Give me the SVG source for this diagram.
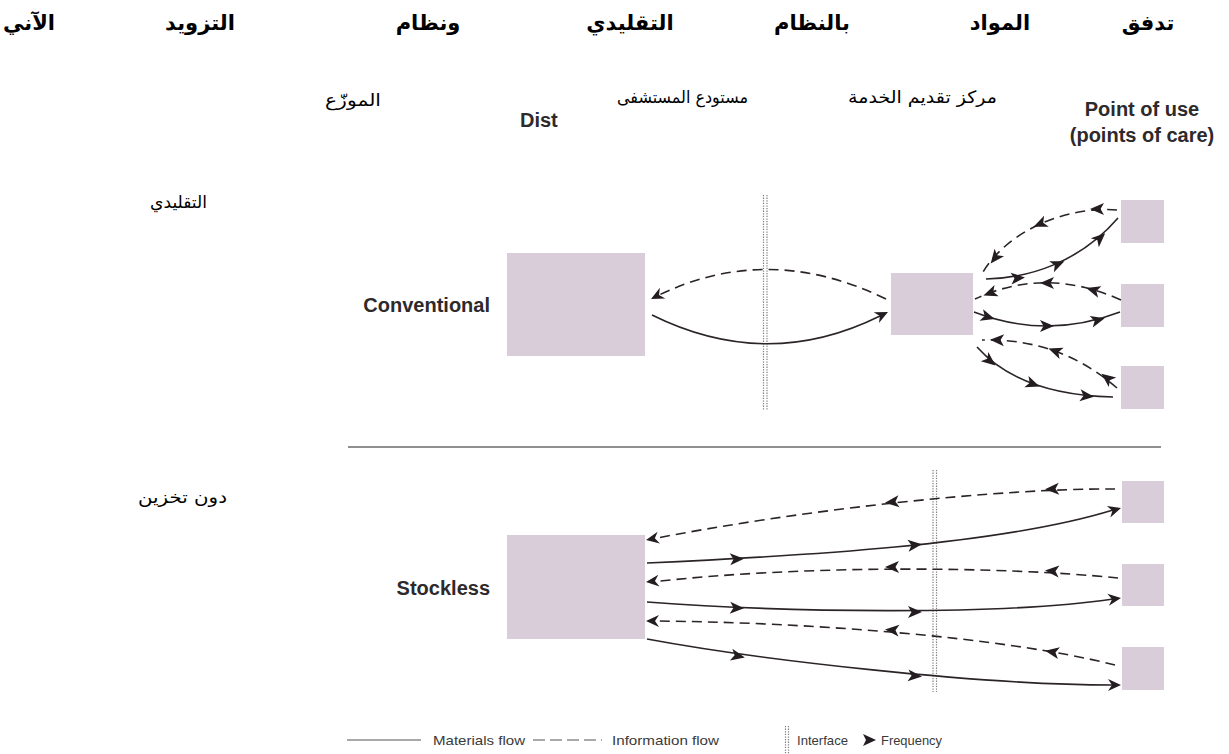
<svg xmlns="http://www.w3.org/2000/svg" xmlns:xlink="http://www.w3.org/1999/xlink" width="1229" height="754" viewBox="0 0 1229 754">
  <style>
    .title { font-family: "DejaVu Sans", sans-serif; font-weight: bold; font-size: 21px; fill: #000; }
    .ar { font-family: "DejaVu Sans", sans-serif; font-size: 17px; fill: #000; }
    .en { font-family: "Liberation Sans", Arial, sans-serif; font-weight: bold; font-size: 20px; fill: #2e2a2c; }
    .leg { font-family: "Liberation Sans", Arial, sans-serif; font-size: 13px; fill: #3a3a3a; }
    .box { fill: #d9cdd9; }
    .mat { fill: none; stroke: #2a2327; stroke-width: 1.6; }
    .inf { fill: none; stroke: #2a2327; stroke-width: 1.6; stroke-dasharray: 10 6; }
    .ifc { fill: none; stroke: #808080; stroke-width: 1.2; stroke-dasharray: 1.3 1.3; }
    .sep { stroke: #6a6a6a; stroke-width: 1.3; }
    .ah { fill: #231c20; }
  </style>
  <defs>
    <!-- frequency mark, centred on the path point -->
    <path id="fq" d="M7,0 L-7,-6 L-3.5,0 L-7,6 Z"/>
    <!-- arrow tip, point at the origin -->
    <path id="tip" d="M0,0 L-13,-6 L-9,0 L-13,6 Z"/>
  </defs>

  <rect width="1229" height="754" fill="#ffffff"/>

  <!-- heading -->
  <g id="heading" class="title" text-anchor="middle">
    <text x="1148" y="30">تدفق</text>
    <text x="1000" y="30">المواد</text>
    <text x="812" y="30">بالنظام</text>
    <text x="630" y="30">التقليدي</text>
    <text x="428" y="30">ونظام</text>
    <text x="200" y="30">التزويد</text>
    <text x="29" y="30">الآني</text>
  </g>

  <!-- column labels -->
  <g id="column-labels">
    <text class="ar" x="325" y="106" textLength="56" lengthAdjust="spacingAndGlyphs">الموزّع</text>
    <text class="ar" x="617" y="103" textLength="131" lengthAdjust="spacingAndGlyphs">مستودع المستشفى</text>
    <text class="en" x="520" y="127" font-size="21">Dist</text>
    <text class="ar" x="848" y="103" textLength="149" lengthAdjust="spacingAndGlyphs">مركز تقديم الخدمة</text>
    <text class="en" x="1142" y="116" text-anchor="middle">Point of use</text>
    <text class="en" x="1142" y="142" text-anchor="middle">(points of care)</text>
  </g>

  <!-- row labels -->
  <g id="row-labels">
    <text class="ar" x="150" y="208" textLength="57" lengthAdjust="spacingAndGlyphs">التقليدي</text>
    <text class="ar" x="138" y="503" textLength="89" lengthAdjust="spacingAndGlyphs">دون تخزين</text>
    <text class="en" x="490" y="312" font-size="21" text-anchor="end">Conventional</text>
    <text class="en" x="490" y="595" font-size="21" text-anchor="end">Stockless</text>
  </g>

  <line class="sep" x1="348" y1="447" x2="1161" y2="447"/>

  <!-- conventional row nodes -->
  <g id="conv-distributor"><rect class="box" x="507" y="253" width="138" height="103"/></g>
  <g id="conv-service-centre"><rect class="box" x="891" y="273" width="82" height="62"/></g>
  <g id="conv-care-1"><rect class="box" x="1121" y="200" width="43" height="43"/></g>
  <g id="conv-care-2"><rect class="box" x="1121" y="284" width="43" height="43"/></g>
  <g id="conv-care-3"><rect class="box" x="1121" y="366" width="43" height="43"/></g>

  <!-- stockless row nodes -->
  <g id="stock-distributor"><rect class="box" x="507" y="535" width="138" height="104"/></g>
  <g id="stock-care-1"><rect class="box" x="1122" y="481" width="42" height="42"/></g>
  <g id="stock-care-2"><rect class="box" x="1122" y="564" width="42" height="42"/></g>
  <g id="stock-care-3"><rect class="box" x="1122" y="647" width="42" height="43"/></g>

  <!-- interfaces -->
  <g id="interfaces">
    <line class="ifc" x1="763.5" y1="195" x2="763.5" y2="410"/>
    <line class="ifc" x1="767" y1="195" x2="767" y2="410"/>
    <line class="ifc" x1="933" y1="470" x2="933" y2="692"/>
    <line class="ifc" x1="936.5" y1="470" x2="936.5" y2="692"/>
  </g>

  <!-- flows -->
  <g id="connectors">
    <!-- conventional: distributor <-> service centre -->
    <path class="inf" d="M886,299 Q767,241 655,297"/>
    <use href="#tip" class="ah" transform="translate(651,299) rotate(153)"/>
    <path class="mat" d="M652,315 Q767,372 880,316"/>
    <use href="#tip" class="ah" transform="translate(888,312) rotate(-26)"/>

    <!-- conventional: service centre <-> care point 1 -->
    <path class="inf" d="M1117,210 C1070,206 1010,228 983,272"/>
    <use href="#fq" class="ah" transform="translate(1097,209) rotate(180)"/>
    <use href="#fq" class="ah" transform="translate(1040,224) rotate(157)"/>
    <use href="#fq" class="ah" transform="translate(995,258) rotate(128)"/>
    <path class="mat" d="M986,279 C1030,278 1080,262 1118,218"/>
    <use href="#fq" class="ah" transform="translate(1018,278) rotate(-5)"/>
    <use href="#fq" class="ah" transform="translate(1058,264) rotate(-23)"/>
    <use href="#fq" class="ah" transform="translate(1100,238) rotate(-42)"/>

    <!-- conventional: service centre <-> care point 2 -->
    <path class="inf" d="M1121,300 Q1046,266 975,299"/>
    <use href="#fq" class="ah" transform="translate(1093,290) rotate(196)"/>
    <use href="#fq" class="ah" transform="translate(1047,283) rotate(180)"/>
    <use href="#fq" class="ah" transform="translate(990,293) rotate(160)"/>
    <path class="mat" d="M974,312 Q1047,340 1120,312"/>
    <use href="#fq" class="ah" transform="translate(988,317) rotate(17)"/>
    <use href="#fq" class="ah" transform="translate(1047,326) rotate(0)"/>
    <use href="#fq" class="ah" transform="translate(1098,320) rotate(-15)"/>

    <!-- conventional: service centre <-> care point 3 -->
    <path class="inf" d="M1117,388 Q1060,338 982,340"/>
    <use href="#fq" class="ah" transform="translate(1107,378) rotate(218)"/>
    <use href="#fq" class="ah" transform="translate(1055,351) rotate(200)"/>
    <use href="#fq" class="ah" transform="translate(997,340) rotate(182)"/>
    <path class="mat" d="M977,347 Q1020,395 1113,397"/>
    <use href="#fq" class="ah" transform="translate(990,361) rotate(39)"/>
    <use href="#fq" class="ah" transform="translate(1033,384) rotate(20)"/>
    <use href="#fq" class="ah" transform="translate(1087,396) rotate(6)"/>

    <!-- stockless: distributor <-> care point 1 -->
    <path class="inf" d="M1115,489 C1000,488 800,510 652,539"/>
    <use href="#fq" class="ah" transform="translate(1052,489) rotate(177)"/>
    <use href="#fq" class="ah" transform="translate(892,502) rotate(174)"/>
    <use href="#tip" class="ah" transform="translate(646,540) rotate(169)"/>
    <path class="mat" d="M647,563 C800,556 1000,545 1113,510"/>
    <use href="#fq" class="ah" transform="translate(737,559) rotate(-3)"/>
    <use href="#fq" class="ah" transform="translate(915,545) rotate(-6)"/>
    <use href="#tip" class="ah" transform="translate(1121,508) rotate(-17)"/>

    <!-- stockless: distributor <-> care point 2 -->
    <path class="inf" d="M1118,578 C1000,566 800,565 652,582"/>
    <use href="#fq" class="ah" transform="translate(1052,571) rotate(184)"/>
    <use href="#fq" class="ah" transform="translate(892,567) rotate(179)"/>
    <use href="#tip" class="ah" transform="translate(646,582) rotate(174)"/>
    <path class="mat" d="M647,602 C780,612 1000,616 1113,599"/>
    <use href="#fq" class="ah" transform="translate(737,608) rotate(3)"/>
    <use href="#fq" class="ah" transform="translate(915,612) rotate(0)"/>
    <use href="#tip" class="ah" transform="translate(1121,598) rotate(-8)"/>

    <!-- stockless: distributor <-> care point 3 -->
    <path class="inf" d="M1115,665 C1000,636 800,622 652,621"/>
    <use href="#fq" class="ah" transform="translate(1052,652) rotate(190)"/>
    <use href="#fq" class="ah" transform="translate(892,630) rotate(185)"/>
    <use href="#tip" class="ah" transform="translate(646,621) rotate(180)"/>
    <path class="mat" d="M647,639 C760,660 980,685 1113,685"/>
    <use href="#fq" class="ah" transform="translate(738,656) rotate(12)"/>
    <use href="#fq" class="ah" transform="translate(915,676) rotate(5)"/>
    <use href="#tip" class="ah" transform="translate(1121,685) rotate(0)"/>
  </g>

  <!-- key -->
  <g id="legend">
    <line x1="347" y1="740" x2="421" y2="740" stroke="#555" stroke-width="1.2"/>
    <text class="leg" x="433" y="745" textLength="92" lengthAdjust="spacingAndGlyphs">Materials flow</text>
    <line x1="533" y1="740" x2="602" y2="740" stroke="#555" stroke-width="1.2" stroke-dasharray="12 5"/>
    <text class="leg" x="612" y="745" textLength="107" lengthAdjust="spacingAndGlyphs">Information flow</text>
    <line class="ifc" x1="785.5" y1="726" x2="785.5" y2="754"/>
    <line class="ifc" x1="788.5" y1="726" x2="788.5" y2="754"/>
    <text class="leg" x="797" y="745" textLength="51" lengthAdjust="spacingAndGlyphs">Interface</text>
    <path class="ah" d="M876,740 L863,734 L866,740 L863,746 Z"/>
    <text class="leg" x="881" y="745" textLength="61" lengthAdjust="spacingAndGlyphs">Frequency</text>
  </g>
</svg>
